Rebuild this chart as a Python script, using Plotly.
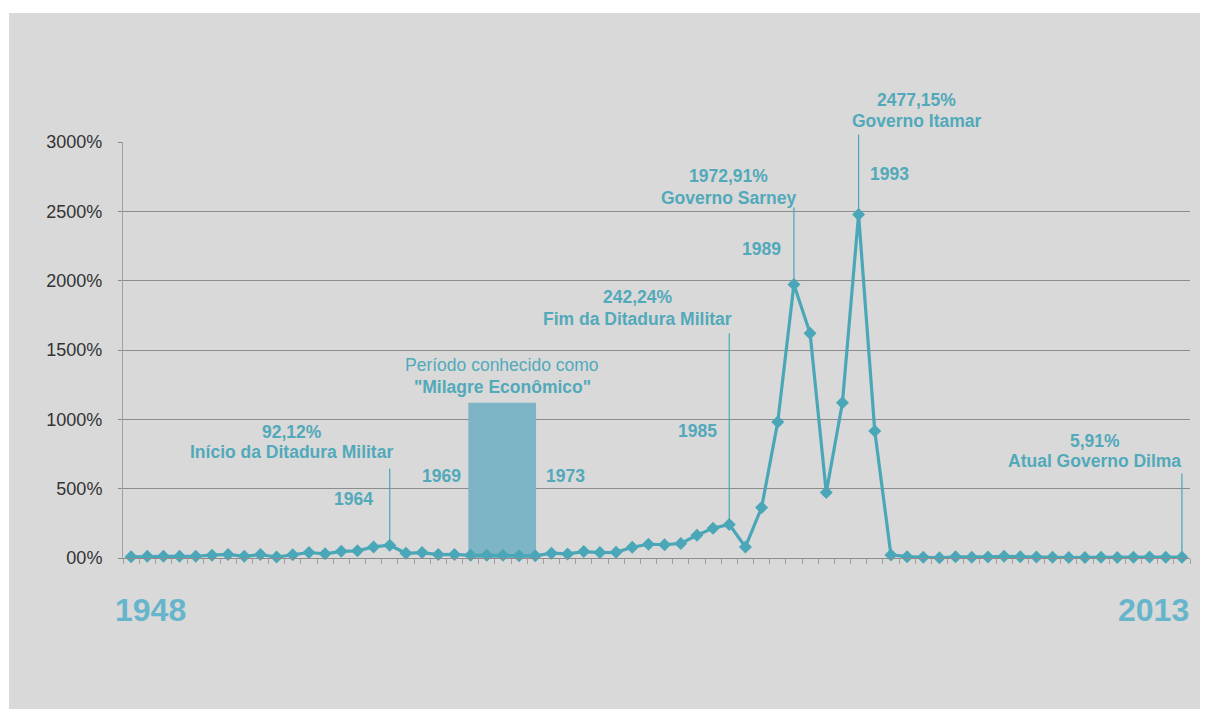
import plotly.graph_objects as go

years = list(range(1948, 2014))
inflation = [
    8.3, 12.2, 12.4, 12.3, 12.7, 20.5, 25.8, 12.4, 24.6, 7.0,
    24.3, 39.5, 30.5, 47.8, 51.6, 79.9, 92.12, 34.2, 39.1, 25.0,
    25.5, 19.3, 19.3, 19.5, 15.7, 15.6, 34.5, 29.4, 46.3, 38.8,
    40.8, 77.2, 99.25, 95.62, 104.79, 164.01, 215.26, 242.24, 79.66, 363.41,
    980.21, 1972.91, 1620.97, 472.70, 1119.10, 2477.15, 916.46, 22.41, 9.56, 5.22,
    1.65, 8.94, 5.97, 7.67, 12.53, 9.30, 7.60, 5.69, 3.14, 4.46,
    5.90, 4.31, 5.91, 6.50, 5.84, 5.91,
]
ytick_vals = [0, 500, 1000, 1500, 2000, 2500, 3000]
ytick_text = ["00%", "500%", "1000%", "1500%", "2000%", "2500%", "3000%"]

# Highlighted period ("Milagre Econômico")
milagre_start, milagre_end, milagre_top = 1969, 1973, 1120

# Callouts: (year, value, line top value, label1, label2, label x, label1 y, label2 y, yref)
callouts = [
    (1964, 92.12, 656, "92,12%", "Início da Ditadura Militar", 1957.93, 912, 764, "y"),
    (1985, 242.24, 1632, "242,24%", "Fim da Ditadura Militar", 1979.35, 1879, 1724, "y"),
    (1989, 1972.91, 2538, "1972,91%", "Governo Sarney", 1984.95, 2755, 2596, "y"),
    (1993, 2477.15, 3065, "2477,15%", "Governo Itamar", 1996.61, 1.101, 1.0505, "paper"),
    (2013, 5.91, 620, "5,91%", "Atual Governo Dilma", 2007.62, 844, 696, "y"),
]
year_labels = [
    ("1964", 1961.73, 422), ("1969", 1967.2, 588), ("1973", 1974.9, 588),
    ("1985", 1983.04, 916), ("1989", 1986.99, 2232), ("1993", 1994.91, 2769),
]

TEAL = "#4aa7b8"
TEXT_TEAL = "#52a9ba"
BIG_TEAL = "#66b5cb"
FONT = "Liberation Sans, Arial, sans-serif"
FS = 17.5


def label(x, y, text, yref="y", size=FS, color=TEXT_TEAL):
    return dict(x=x, y=y, xref="x", yref=yref, text=text, showarrow=False,
                xanchor="center", yanchor="middle",
                font=dict(size=size, color=color, family=FONT))


fig = go.Figure()
fig.add_trace(go.Scatter(
    x=years, y=inflation, mode="lines+markers",
    line=dict(color=TEAL, width=3.2),
    marker=dict(symbol="diamond", size=10, color=TEAL),
    cliponaxis=False, showlegend=False, hoverinfo="x+y",
))

shapes = [
    dict(type="rect", xref="paper", yref="paper", x0=-0.10684, x1=1.00937,
         y0=-0.363, y1=1.3101, fillcolor="#d9d9d9", line=dict(width=0), layer="below"),
    dict(type="rect", xref="x", yref="y", x0=milagre_start - 0.14, x1=milagre_end + 0.05,
         y0=0, y1=milagre_top, fillcolor="#7db4c6", line=dict(width=0), layer="between"),
]
annotations = []
for (yr, val, top, l1, l2, lx, ly1, ly2, yref) in callouts:
    annotations.append(dict(x=yr, y=val, xref="x", yref="y", ax=yr, ay=top,
                            axref="x", ayref="y", text="", showarrow=True,
                            arrowhead=0, arrowwidth=1.2, arrowcolor=TEAL,
                            standoff=0, startstandoff=0))
    annotations.append(label(lx, ly1, "<b>%s</b>" % l1, yref))
    annotations.append(label(lx, ly2, "<b>%s</b>" % l2, yref))
for (t, lx, ly) in year_labels:
    annotations.append(label(lx, ly, "<b>%s</b>" % t))
annotations.append(label(1970.95, 1392, "Período conhecido como"))
annotations.append(label(1970.95, 1233, "<b>\"Milagre Econômico\"</b>"))
annotations.append(label(1949.2, -0.1238, "<b>%d</b>" % years[0], "paper", 32, BIG_TEAL))
annotations.append(label(2011.27, -0.1238, "<b>%d</b>" % years[-1], "paper", 32, BIG_TEAL))

fig.update_layout(
    width=1207, height=709,
    margin=dict(l=123, r=17, t=142, b=151),
    paper_bgcolor="white", plot_bgcolor="rgba(0,0,0,0)",
    shapes=shapes, annotations=annotations,
    xaxis=dict(
        range=[years[0] - 0.5, years[-1] + 0.5],
        tickvals=[y - 0.5 for y in years] + [years[-1] + 0.5],
        ticktext=[""] * (len(years) + 1),
        ticks="outside", ticklen=5, tickcolor="#a0a0a0",
        showgrid=False, showline=True, linecolor="#8c8c8c", linewidth=1,
        zeroline=False, fixedrange=True,
    ),
    yaxis=dict(
        range=[0, 3000], tickvals=ytick_vals, ticktext=ytick_text,
        ticks="outside", ticklen=4, tickcolor="#8c8c8c",
        showgrid=True, gridcolor="#8c8c8c", gridwidth=1,
        showline=True, linecolor="#a0a0a0", linewidth=1,
        zeroline=False, tickfont=dict(size=18, color="#333333", family=FONT),
        ticklabelstandoff=12,
    ),
    hovermode="closest",
)

fig.write_html("out.html")
